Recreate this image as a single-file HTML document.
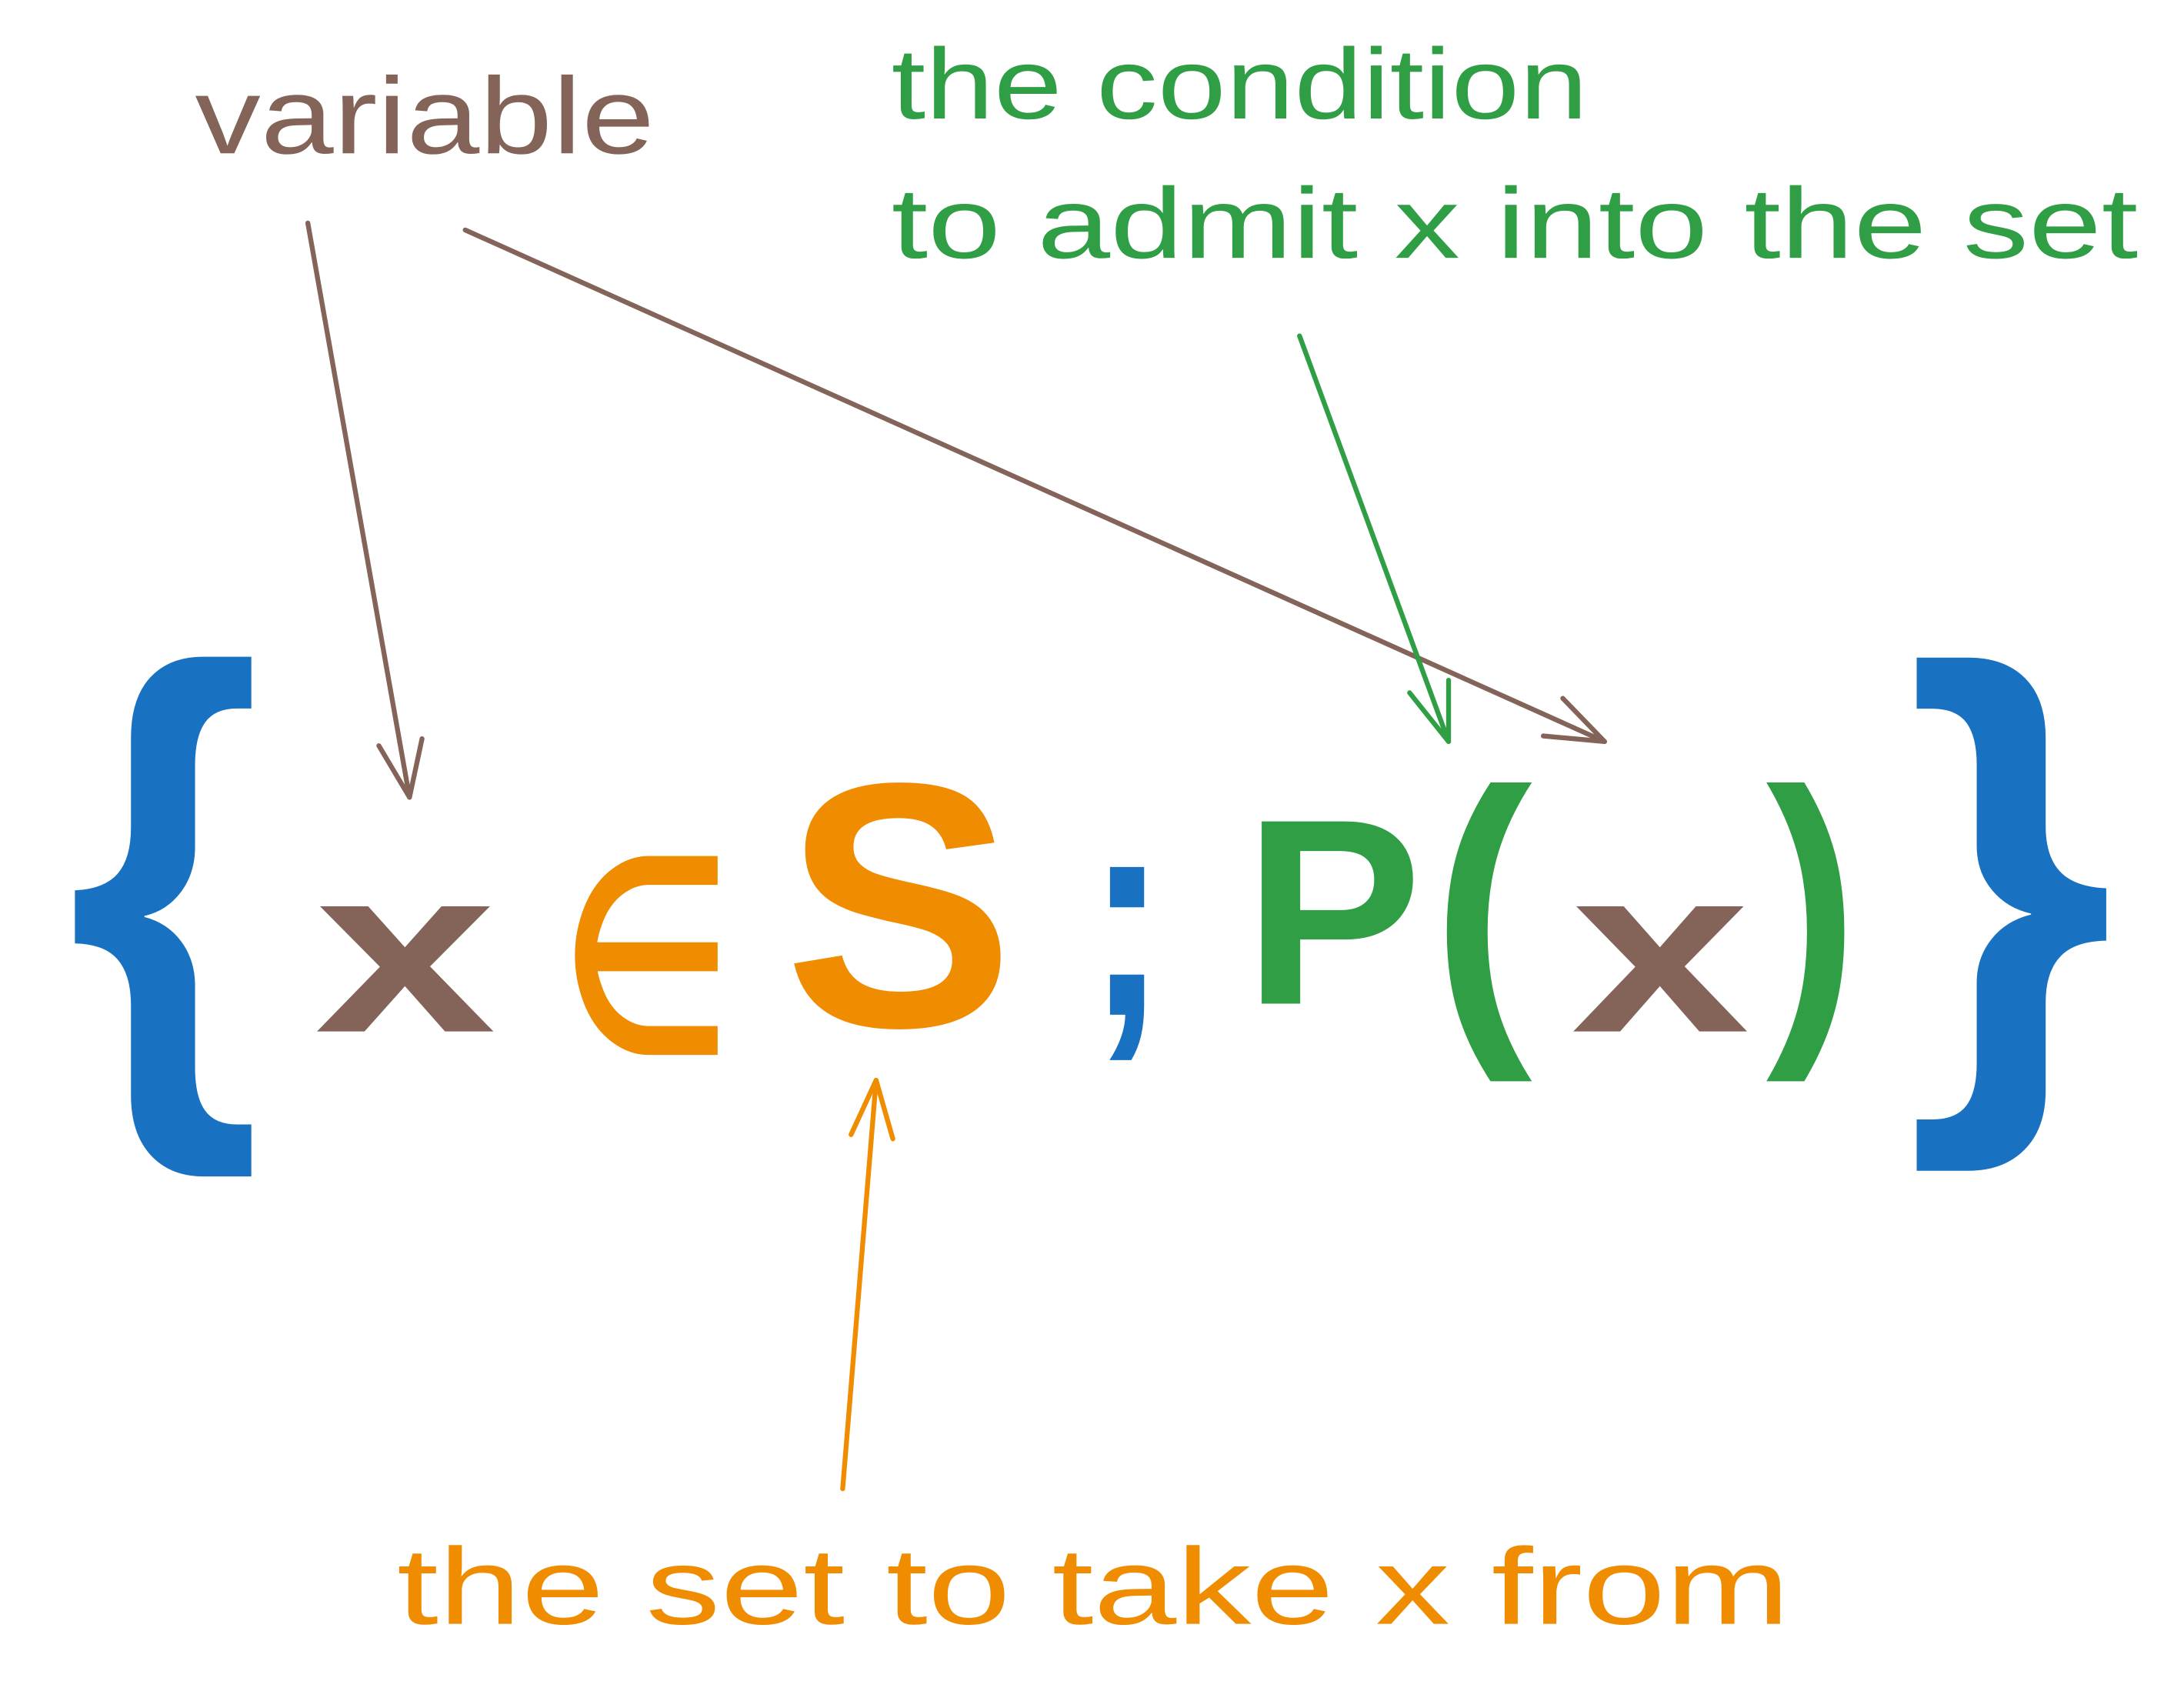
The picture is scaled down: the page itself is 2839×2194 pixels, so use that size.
<!DOCTYPE html>
<html><head><meta charset="utf-8"><style>
html,body{margin:0;padding:0;background:#fff;}
svg{display:block;}
text{font-family:"Liberation Sans",sans-serif;}
</style></head><body>
<svg width="2839" height="2194" viewBox="0 0 1568 1211" preserveAspectRatio="none" xmlns="http://www.w3.org/2000/svg">
<rect width="1568" height="1211" fill="#fff"/>
<text x="140" y="110" font-size="78" fill="#846358" textLength="330" lengthAdjust="spacingAndGlyphs">variable</text>
<text x="640" y="85" font-size="72" fill="#2f9e44" textLength="500" lengthAdjust="spacingAndGlyphs">the condition</text>
<text x="640" y="185" font-size="72" fill="#2f9e44" textLength="895" lengthAdjust="spacingAndGlyphs">to admit x into the set</text>
<text x="285" y="1165" font-size="78" fill="#f08c00" textLength="1000" lengthAdjust="spacingAndGlyphs">the set to take x from</text>
<text x="48" y="761" font-size="400" font-weight="bold" fill="#1971c2" textLength="140" lengthAdjust="spacingAndGlyphs">{</text>
<text x="1368" y="758" font-size="395" font-weight="bold" fill="#1971c2" textLength="150" lengthAdjust="spacingAndGlyphs">}</text>
<text x="226" y="740" font-size="170" font-weight="bold" fill="#846358" textLength="130" lengthAdjust="spacingAndGlyphs">x</text>
<text x="403" y="752" font-size="190" font-weight="bold" fill="#f08c00" textLength="122" lengthAdjust="spacingAndGlyphs">∈</text>
<text x="563" y="736" font-size="250" font-weight="bold" fill="#f08c00" textLength="165" lengthAdjust="spacingAndGlyphs">S</text>
<text x="780" y="728" font-size="210" font-weight="bold" fill="#1971c2" textLength="58" lengthAdjust="spacingAndGlyphs">;</text>
<text x="893" y="720" font-size="190" font-weight="bold" fill="#2f9e44" textLength="128" lengthAdjust="spacingAndGlyphs">P</text>
<text x="1028" y="728" font-size="230" font-weight="bold" fill="#2f9e44" textLength="72" lengthAdjust="spacingAndGlyphs">(</text>
<text x="1128" y="740" font-size="170" font-weight="bold" fill="#846358" textLength="128" lengthAdjust="spacingAndGlyphs">x</text>
<text x="1268" y="728" font-size="230" font-weight="bold" fill="#2f9e44" textLength="66" lengthAdjust="spacingAndGlyphs">)</text>
<g fill="none" stroke-width="3.5" stroke-linecap="round" stroke-linejoin="round">
<g stroke="#846358">
<path d="M221 160 L294 572"/><path d="M272 535 L294 572 L303 530"/>
<path d="M334 165 L1152 532"/><path d="M1122 501 L1152 532 L1108 528"/>
</g>
<g stroke="#2f9e44">
<path d="M933 241 L1040 532"/><path d="M1012 497 L1040 532 L1040 488"/>
</g>
<g stroke="#f08c00">
<path d="M605 1068 L629 775"/><path d="M611 814 L629 775 L641 817"/>
</g>
</g>
</svg>
</body></html>
